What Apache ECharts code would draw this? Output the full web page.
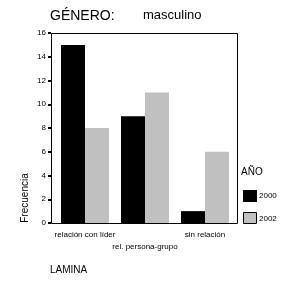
<!DOCTYPE html>
<html><head><meta charset="utf-8">
<script src="https://cdn.jsdelivr.net/npm/echarts@6/dist/echarts.min.js"></script>
<style>html,body{margin:0;padding:0;background:#fff}#c{width:285px;height:285px}</style>
</head><body><div id="c"></div>
<script>
const categories = ['relación con líder', 'rel. persona-grupo', 'sin relación'];
const years = ['2000', '2002'];
const values2000 = [15, 9, 1];
const values2002 = [8, 11, 6];
const yTicks = [0, 2, 4, 6, 8, 10, 12, 14, 16];

const F = 'Liberation Sans, Arial, sans-serif';
const chart = echarts.init(document.getElementById('c'));
chart.setOption({
  animation: false,
  textStyle: {fontFamily: F},
  grid: {left: 55, top: 33, width: 180, height: 190, containLabel: false},
  xAxis: {
    type: 'category', data: categories,
    axisLine: {show: false},
    axisTick: {show: false},
    axisLabel: {interval: 0, fontSize: 8, color: '#000', fontFamily: F, margin: 6,
      formatter: function (v, i) { return i === 1 ? '\n' + v : v; }, lineHeight: 12}
  },
  yAxis: {
    type: 'value', min: yTicks[0], max: yTicks[yTicks.length - 1], interval: 2,
    offset: 4,
    splitLine: {show: false},
    axisLine: {show: false},
    axisTick: {show: true, length: 3, lineStyle: {color: '#000', width: 2}},
    axisLabel: {fontSize: 8, color: '#000', fontFamily: F, margin: 5}
  },
  series: [
    {name: years[0], type: 'bar', data: values2000, barCategoryGap: '20%', barGap: '0%',
     itemStyle: {color: '#000'}},
    {name: years[1], type: 'bar', data: values2002, barCategoryGap: '20%', barGap: '0%',
     itemStyle: {color: '#c0c0c0'}}
  ],
  graphic: [
    {type: 'rect', shape: {x: 51.5, y: 33.5, width: 186, height: 190}, style: {fill: 'none', stroke: '#000', lineWidth: 1}, z: 10},
    {type: 'text', left: 50, top: 9, style: {text: 'GÉNERO:', fontSize: 14, fontFamily: F, fill: '#000'}},
    {type: 'text', left: 143, top: 9, style: {text: 'masculino', fontSize: 13, fontFamily: F, fill: '#000'}},
    {type: 'text', x: 25, y: 198, rotation: Math.PI / 2, style: {text: 'Frecuencia', fontSize: 10, fontFamily: F, fill: '#000', align: 'center', verticalAlign: 'middle'}},
    {type: 'text', left: 241, top: 167, style: {text: 'AÑO', fontSize: 10, fontFamily: F, fill: '#000'}},
    {type: 'rect', shape: {x: 243, y: 190, width: 14, height: 12}, style: {fill: '#000'}},
    {type: 'text', left: 259, top: 192, style: {text: years[0], fontSize: 8, fontFamily: F, fill: '#000'}},
    {type: 'rect', shape: {x: 243.5, y: 212.5, width: 13, height: 11}, style: {fill: '#c0c0c0', stroke: '#000', lineWidth: 1}},
    {type: 'text', left: 259, top: 215, style: {text: years[1], fontSize: 8, fontFamily: F, fill: '#000'}},
    {type: 'text', left: 50, top: 265, style: {text: 'LAMINA', fontSize: 10, fontFamily: F, fill: '#000'}}
  ]
});
</script></body></html>
